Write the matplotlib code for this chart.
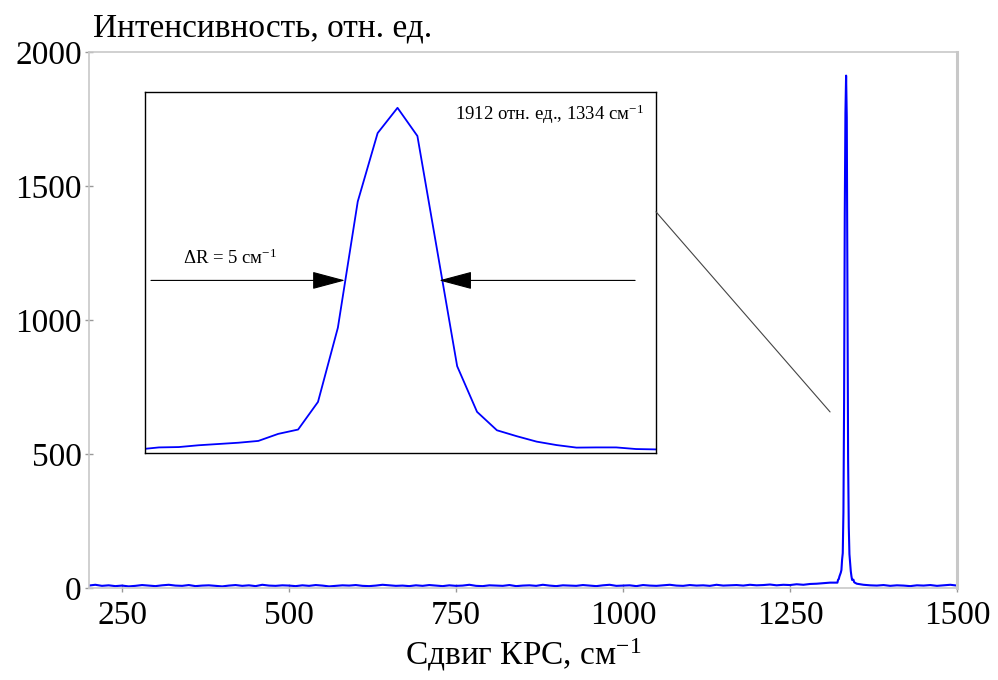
import matplotlib
matplotlib.use("Agg")
import matplotlib.pyplot as plt
from matplotlib.patches import ConnectionPatch
import numpy as np

plt.rcParams['font.family'] = ['Liberation Serif', 'DejaVu Serif']
plt.rcParams['mathtext.fontset'] = 'custom'
plt.rcParams['mathtext.rm'] = 'Liberation Serif'
plt.rcParams['mathtext.it'] = 'Liberation Serif:italic'

# baseline, 200..1310 cm-1, step 10
noise_left = [9, 12, 8, 10, 7, 9, 6, 8, 11, 9,
              7, 10, 12, 9, 8, 11, 7, 9, 10, 8,
              6, 9, 11, 8, 10, 7, 12, 9, 8, 10,
              9, 7, 10, 8, 11, 9, 6, 8, 10, 9,
              11, 8, 7, 9, 12, 10, 8, 9, 7, 10,
              8, 11, 9, 7, 10, 8, 9, 12, 8, 7,
              10, 9, 8, 11, 7, 9, 10, 8, 12, 9,
              7, 10, 9, 8, 11, 9, 7, 10, 12, 8,
              9, 10, 7, 11, 9, 8, 10, 12, 9, 8,
              11, 9, 10, 8, 12, 9, 10, 11, 9, 12,
              10, 11, 13, 10, 12, 11, 14, 12, 15, 16,
              18, 20]
# baseline, 1350..1500 cm-1, step 10
noise_right = [16, 12, 10, 9, 11, 8, 10, 9, 7, 10, 9, 11, 8, 10, 12, 9]

# peak region, 1321..1347 cm-1, step 1
peak_x = list(range(1321, 1348))
peak_y = [20, 31, 33, 43, 50, 57, 67, 106, 130, 283, 694, 1393, 1772, 1912,
          1756, 1119, 481, 228, 126, 93, 63, 44, 30, 31, 31, 22, 20]

peak_pos = 1334
peak_max = 1912
fwhm = 5

x = list(range(200, 1320, 10)) + peak_x + list(range(1350, 1510, 10))
y = noise_left + peak_y + noise_right

fig = plt.figure(figsize=(9.98, 6.8), dpi=100)
ax = fig.add_axes([0.0888, 0.1353, 0.8701, 0.7882])
ax.plot(x, y, color='#0000ff', lw=1.5)
ax.set_xlim(200, 1500)
ax.set_ylim(0, 2000)
ax.set_xticks([250, 500, 750, 1000, 1250, 1500])
ax.set_yticks([0, 500, 1000, 1500, 2000])
for s in ax.spines.values():
    s.set_color('#c8c8c8')
    s.set_linewidth(1.2)
ax.spines['right'].set_linewidth(2.2)
ax.tick_params(direction='inout', length=6, width=1, color='#999999',
               labelsize=24)
ax.tick_params(axis='x', pad=6)
ax.tick_params(axis='y', pad=2)
ax.set_xlabel('Сдвиг КРС, см$^{-1}$', fontsize=24, labelpad=4)
fig.text(0.0932, 0.946, 'Интенсивность, отн. ед.', fontsize=24,
         ha='left', va='baseline')

# inset
axi = fig.add_axes([0.1453, 0.3338, 0.512, 0.531])
axi.plot(peak_x, peak_y, color='#0000ff', lw=1.3)
axi.set_xlim(1321.3, 1347)
axi.set_ylim(0, 2000)
axi.set_xticks([])
axi.set_yticks([])
for s in axi.spines.values():
    s.set_color('black')
    s.set_linewidth(1.0)

half = peak_max / 2
left_tip = 1331.36
right_tip = left_tip + fwhm - 0.27
arrow = dict(arrowstyle='-|>,head_length=1.05,head_width=0.28',
             color='black', lw=0.8, mutation_scale=20, shrinkA=0, shrinkB=0)
axi.annotate('', xy=(left_tip, half), xytext=(1321.6, half), arrowprops=arrow)
axi.annotate('', xy=(right_tip, half), xytext=(1345.95, half), arrowprops=arrow)
axi.text(0.0736, 0.523, 'ΔR = %d см$^{-1}$' % fwhm, transform=axi.transAxes,
         fontsize=13.5, ha='left', va='baseline')
axi.text(0.977, 0.923, '%d отн. ед., %d см$^{-1}$' % (peak_max, peak_pos),
         transform=axi.transAxes, fontsize=13.5, ha='right', va='baseline')

con = ConnectionPatch(xyA=(1, 0.668), coordsA=axi.transAxes,
                      xyB=(1310, 657), coordsB=ax.transData,
                      color='#444444', lw=0.8)
fig.add_artist(con)

fig.savefig('out.png', dpi=100)
